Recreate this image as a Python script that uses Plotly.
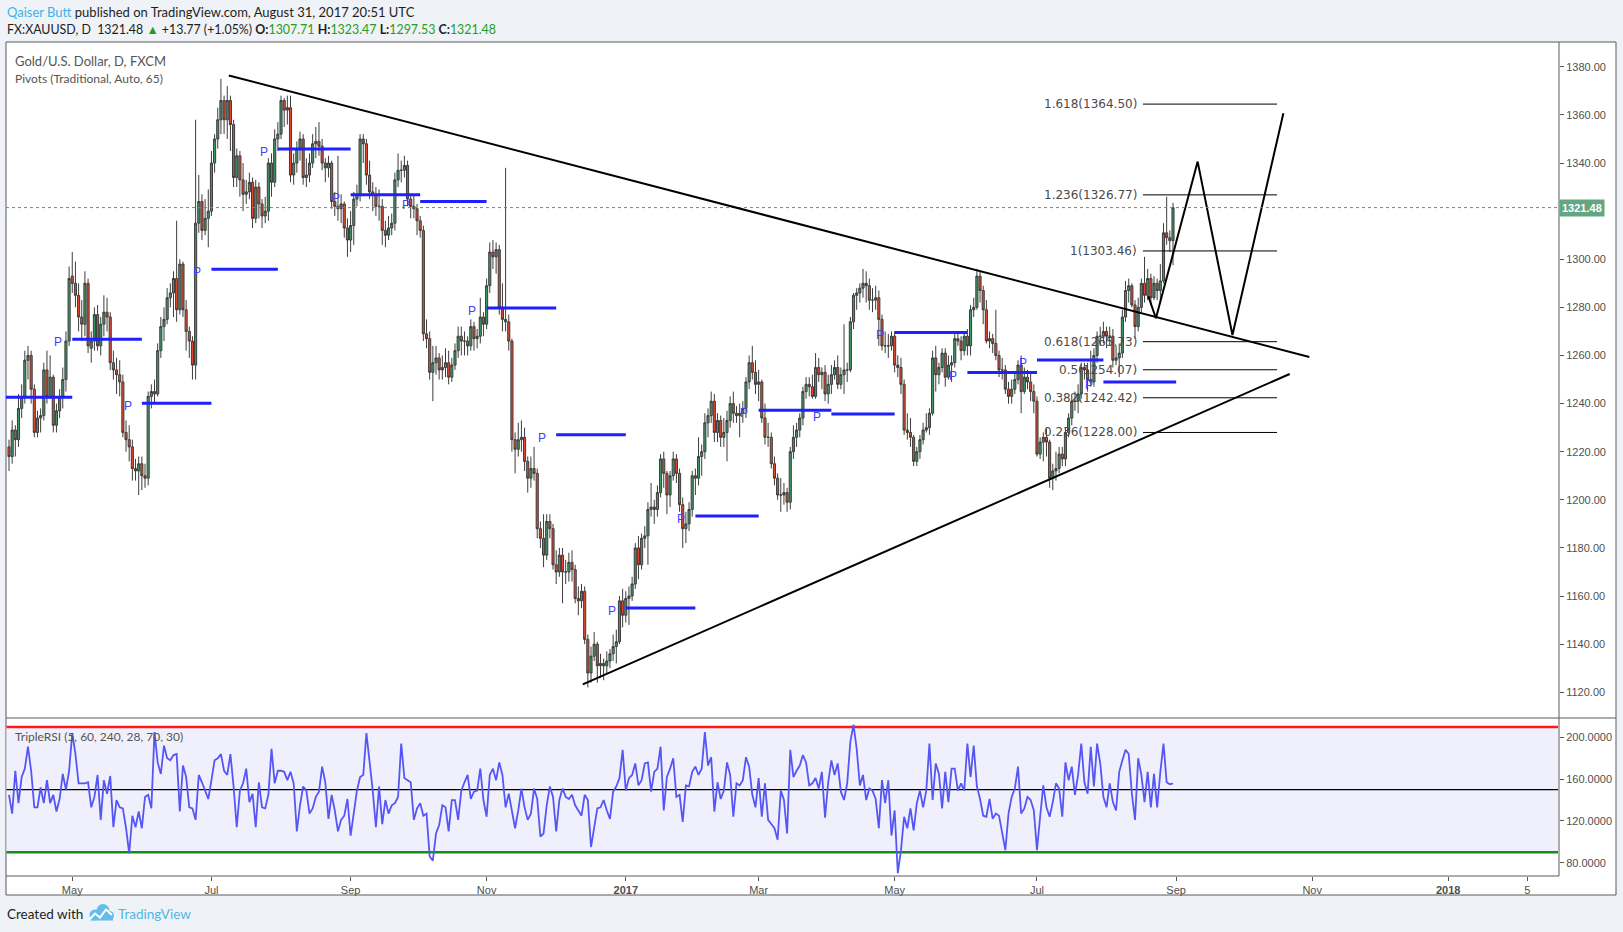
import pandas as pd
import plotly.graph_objects as go

# ---------------- data ----------------
START_DATE = "2016-04-04"   # first daily bar (weekdays)

OPEN = [
    1222,1218,1229,1225,1238, 1243,1258,1260,1246,1228, 1234,1235,1254,1243,1251, 1231,1237,1243,1250,1266,
    1293,1290,1285,1276,1273, 1290,1263,1266,1277,1264, 1273,1278,1276,1257,1254, 1252,1249,1228,1225,1222,
    1213,1212,1215,1210,1209, 1243,1245,1244,1262,1272, 1275,1284,1286,1292,1279, 1298,1279,1270,1266,1256,
    1315,1324,1312,1317,1320, 1340,1350,1358,1366,1358, 1366,1356,1334,1343,1333, 1327,1328,1332,1317,1330,
    1323,1318,1320,1340,1332, 1350,1352,1366,1362,1363, 1335,1340,1346,1350,1334, 1335,1340,1348,1349,1347,
    1340,1338,1340,1324,1322, 1321,1323,1313,1308,1314, 1325,1327,1350,1348,1335, 1328,1327,1322,1322,1312,
    1310,1313,1315,1333,1337, 1337,1339,1325,1322,1321, 1316,1312,1269,1267,1253, 1257,1259,1254,1255,1257,
    1251,1256,1262,1268,1266, 1266,1264,1272,1267,1268, 1276,1273,1289,1303,1301, 1304,1280,1275,1274,1266,
    1225,1221,1225,1226,1216, 1209,1213,1211,1188,1184, 1177,1191,1188,1173,1170, 1177,1170,1170,1174,1171,
    1159,1158,1162,1142,1128, 1135,1140,1131,1132,1131, 1133,1136,1139,1141,1158, 1152,1159,1160,1165,1180,
    1173,1184,1185,1196,1197, 1196,1203,1217,1211,1202, 1210,1217,1211,1198,1188, 1190,1196,1210,1209,1218,
    1220,1232,1235,1241,1228, 1233,1226,1228,1233,1240, 1236,1235,1236,1238,1249, 1257,1253,1248,1249,1234,
    1226,1226,1215,1209,1202, 1202,1203,1199,1220,1226, 1229,1234,1245,1248,1247, 1243,1255,1252,1253,1244,
    1248,1252,1255,1248,1252, 1254,1254,1274,1285,1286, 1288,1290,1289,1283,1283, 1284,1275,1264,1264,1264,
    1268,1256,1255,1248,1229, 1228,1226,1216,1220,1225, 1229,1230,1236,1259,1252, 1255,1261,1251,1256,1257,
    1267,1266,1262,1268,1264, 1279,1280,1293,1287,1279, 1266,1267,1265,1260,1254, 1254,1246,1243,1246,1250,
    1256,1245,1251,1249,1245, 1241,1219,1224,1226,1224, 1209,1212,1213,1219,1217, 1228,1234,1241,1241,1244,
    1255,1254,1250,1249,1260, 1268,1268,1270,1268,1268, 1258,1259,1261,1276,1287, 1289,1281,1272,1280,1290,
    1285,1292,1284,1290,1287, 1291,1311,1309,1307.71,
]
HIGH = [
    1225,1233,1231,1244,1248, 1262,1264,1262,1248,1237, 1238,1257,1262,1260,1252, 1240,1246,1255,1270,1297,
    1303,1299,1290,1283,1295, 1292,1270,1280,1281,1276, 1285,1284,1278,1262,1259, 1258,1252,1233,1231,1225,
    1217,1218,1218,1215,1245, 1248,1250,1265,1276,1280, 1288,1290,1295,1316,1300, 1299,1283,1272,1268,1358,
    1335,1327,1325,1329,1345, 1352,1363,1375,1368,1372, 1368,1358,1346,1345,1340, 1333,1336,1334,1333,1332,
    1325,1326,1342,1344,1354, 1357,1368,1367,1368,1368, 1344,1349,1353,1352,1342, 1344,1352,1355,1357,1350,
    1342,1343,1341,1328,1343, 1327,1324,1317,1320,1328, 1331,1352,1352,1350,1341, 1332,1330,1329,1325,1316,
    1318,1319,1336,1344,1341, 1343,1341,1327,1327,1323, 1318,1314,1275,1270,1264, 1264,1261,1260,1263,1262,
    1259,1265,1272,1272,1270, 1268,1275,1274,1271,1284, 1278,1292,1307,1308,1307, 1306,1290,1338,1277,1267,
    1228,1232,1233,1230,1218, 1218,1222,1213,1191,1194, 1194,1194,1190,1179,1180, 1180,1175,1178,1179,1173,
    1164,1165,1164,1144,1139, 1145,1141,1136,1134,1137, 1138,1144,1146,1160,1163, 1162,1164,1168,1182,1185,
    1186,1189,1199,1207,1200, 1206,1219,1220,1212,1212, 1220,1219,1213,1201,1195, 1199,1212,1213,1226,1223,
    1236,1238,1245,1244,1236, 1235,1234,1237,1243,1245, 1239,1240,1241,1251,1260, 1264,1258,1254,1250,1240,
    1232,1228,1218,1211,1209, 1207,1205,1222,1231,1232, 1236,1247,1251,1251,1252, 1261,1259,1255,1256,1252,
    1256,1258,1260,1255,1273, 1257,1276,1286,1288,1290, 1296,1295,1292,1288,1289, 1287,1277,1270,1269,1270,
    1270,1260,1259,1250,1236, 1234,1227,1222,1227,1232, 1236,1238,1262,1264,1257, 1263,1263,1260,1260,1269,
    1270,1268,1270,1271,1281, 1284,1296,1295,1289,1283, 1270,1269,1279,1262,1259, 1256,1249,1250,1253,1258,
    1260,1255,1254,1253,1248, 1243,1226,1228,1230,1225, 1215,1220,1222,1222,1230, 1236,1244,1245,1248,1257,
    1257,1257,1262,1263,1270, 1272,1274,1272,1272,1271, 1264,1265,1279,1291,1292, 1290,1283,1284,1292,1301,
    1296,1294,1293,1292,1298, 1315,1326,1312,1323.47,
]
LOW = [
    1212,1215,1218,1222,1234, 1240,1250,1240,1226,1226, 1228,1233,1240,1242,1228, 1228,1234,1238,1245,1264,
    1286,1280,1270,1266,1268, 1261,1257,1262,1262,1260, 1268,1270,1254,1250,1244, 1243,1226,1220,1216,1208,
    1208,1202,1204,1205,1206, 1238,1240,1243,1259,1266, 1273,1280,1276,1274,1277, 1276,1262,1259,1250,1250,
    1311,1308,1310,1305,1318, 1336,1346,1352,1352,1350, 1345,1330,1330,1326,1320, 1323,1325,1313,1315,1317,
    1313,1315,1316,1326,1330, 1345,1350,1355,1356,1332, 1331,1336,1341,1331,1330, 1332,1338,1342,1343,1337,
    1332,1334,1321,1318,1316, 1315,1309,1301,1303,1306, 1322,1324,1340,1331,1325, 1320,1318,1316,1306,1305,
    1308,1310,1312,1330,1332, 1334,1322,1317,1317,1310, 1309,1266,1263,1250,1241, 1252,1250,1250,1251,1248,
    1249,1254,1259,1260,1260, 1260,1262,1262,1263,1265, 1268,1271,1286,1296,1294, 1277,1270,1270,1262,1220,
    1211,1218,1220,1212,1203, 1205,1208,1184,1180,1172, 1175,1184,1171,1165,1168, 1157,1165,1166,1166,1157,
    1152,1155,1140,1122,1124, 1133,1124,1126,1125,1128, 1130,1133,1132,1140,1147, 1149,1148,1158,1163,1167,
    1171,1180,1173,1193,1190, 1193,1201,1205,1194,1197, 1208,1207,1195,1180,1182, 1187,1193,1202,1206,1210,
    1217,1226,1232,1224,1224, 1222,1222,1216,1230,1232, 1232,1226,1232,1234,1246, 1250,1244,1241,1232,1223,
    1222,1213,1206,1200,1195, 1198,1195,1196,1217,1222, 1226,1231,1242,1243,1242, 1242,1249,1246,1241,1240,
    1244,1250,1246,1246,1244, 1249,1253,1271,1279,1282, 1284,1282,1279,1278,1279, 1264,1262,1261,1259,1262,
    1253,1251,1244,1227,1225, 1222,1214,1214,1217,1223, 1228,1227,1235,1245,1248, 1253,1247,1250,1249,1255,
    1264,1258,1260,1260,1260, 1276,1279,1282,1273,1265, 1263,1261,1258,1251,1250, 1244,1240,1240,1244,1248,
    1236,1244,1246,1241,1236, 1218,1217,1216,1218,1205, 1204,1208,1211,1214,1214, 1226,1231,1237,1236,1242,
    1250,1245,1247,1247,1257, 1264,1265,1263,1264,1255, 1256,1251,1259,1274,1282, 1280,1267,1270,1278,1282,
    1283,1281,1283,1283,1282, 1290,1306,1303,1297.53,
]
CLOSE = [
    1218,1229,1225,1238,1243, 1258,1260,1246,1228,1234, 1235,1254,1243,1251,1231, 1237,1243,1250,1266,1292,
    1290,1285,1276,1273,1290, 1264,1266,1277,1264,1273, 1278,1276,1257,1254,1252, 1249,1228,1225,1222,1213,
    1212,1215,1210,1209,1243, 1245,1244,1262,1272,1275, 1284,1286,1292,1279,1298, 1279,1270,1266,1256,1315,
    1324,1312,1317,1320,1340, 1350,1358,1366,1358,1366, 1356,1334,1343,1333,1327, 1328,1332,1317,1330,1323,
    1318,1320,1340,1332,1350, 1352,1366,1362,1363,1335, 1340,1346,1350,1334,1335, 1340,1348,1349,1347,1340,
    1338,1340,1324,1322,1321, 1323,1313,1308,1314,1325, 1327,1350,1348,1335,1328, 1327,1322,1322,1312,1310,
    1313,1315,1333,1337,1337, 1339,1325,1322,1321,1316, 1312,1269,1267,1253,1257, 1259,1254,1255,1257,1251,
    1256,1262,1268,1266,1266, 1264,1272,1267,1268,1276, 1273,1289,1303,1301,1304, 1280,1275,1274,1266,1225,
    1221,1225,1226,1216,1209, 1213,1211,1188,1184,1177, 1191,1188,1173,1170,1177, 1170,1170,1174,1171,1159,
    1158,1162,1142,1128,1135, 1140,1131,1132,1131,1133, 1136,1139,1141,1158,1152, 1159,1160,1165,1180,1173,
    1184,1185,1196,1197,1196, 1203,1217,1211,1202,1210, 1217,1211,1198,1188,1190, 1196,1210,1209,1218,1220,
    1232,1235,1241,1228,1233, 1226,1228,1233,1240,1236, 1235,1236,1238,1249,1257, 1253,1248,1249,1234,1226,
    1226,1215,1209,1202,1202, 1203,1199,1220,1226,1229, 1234,1245,1248,1247,1243, 1255,1252,1253,1244,1248,
    1252,1255,1248,1252,1254, 1254,1274,1285,1286,1288, 1290,1289,1283,1283,1284, 1275,1264,1264,1264,1268,
    1256,1255,1248,1229,1228, 1226,1216,1220,1225,1229, 1230,1236,1259,1252,1255, 1261,1251,1256,1257,1267,
    1266,1262,1268,1264,1279, 1280,1293,1287,1279,1266, 1267,1265,1260,1254,1254, 1246,1243,1246,1250,1256,
    1245,1251,1249,1245,1241, 1219,1224,1226,1224,1209, 1212,1213,1219,1217,1228, 1234,1241,1241,1244,1255,
    1254,1250,1249,1260,1268, 1268,1270,1268,1268,1258, 1259,1261,1276,1287,1289, 1281,1272,1280,1290,1285,
    1292,1284,1290,1287,1291, 1311,1309,1307.71,1321.48,
]

TRIPLE_RSI = [
    145,127,168,137,162,170,191,168,133,133, 152,137,159,137,145,129,141,165,150,168,
    204,184,156,156,156,157,133,143,164,121, 159,146,163,114,140,133,132,113,89,125,
    114,129,113,143,145,132,205,176,165,192, 180,178,183,184,129,173,162,133,132,
    121,164,157,149,141,159,178,180,184,168, 164,184,153,114,149,156,170,138,146,114,
    157,133,132,145,189,156,168,168,167,159, 167,156,110,135,153,149,127,132,143,148,
    172,157,122,145,130,110,121,125,141,106, 130,149,162,164,204,178,149,114,153,117,
    140,127,135,137,143,194,161,159,157,121, 132,137,125,127,86,82,108,116,135,133,
    110,140,140,121,149,157,164,141,148,149, 170,140,124,164,170,159,176,164,133,
    146,130,113,130,151,133,121,127,151, 141,105,108,135,153,143,110,140,151,143,
    141,145,135,130,125,145,140,95,116,132, 133,140,130,122,148,153,161,188,149,161,
    164,175,154,159,175,176,148,167,170,191, 130,162,170,180,143,145,119,154,153,167,
    172,164,
    170,205,173,181,129,157,141,149,176,164, 124,156,154,159,181,172,145,133,161,124,
    156,121,117,113,102,149,140,108,188,162, 168,173,183,176,154,156,161,151,167,123,
    157,178,164,175,148,140,156,196,212,189, 154,164,140,151,149,141,113,159,137,159,
    106,130,70,92,124,113,132,111,137,149, 133,149,194,140,175,165,132,167,138,170,
    170,149,156,149,194,162,192,153,141,125, 124,141,122,127,125,108,92,127,143,151,172,
    127,132,143,140,130,92,124,154,133,124, 138,156,151,124,176,159,172,145,164,194,
    157,146,191,153,194,175,143,133,156,138, 130,167,178,188,184,146,121,180,164,138,
    167,133,165,133,167,194,157,155,156,
]
RSI_LEVELS = [210, 150, 90]

# monthly traditional pivots (P)
PIVOT_MONTHS = ["2016-04", "2016-05", "2016-06", "2016-07", "2016-08", "2016-09", "2016-10", "2016-11",
                "2016-12", "2017-01", "2017-02", "2017-03", "2017-04", "2017-05", "2017-06", "2017-07", "2017-08"]
PIVOT_LEVELS = [1242.6, 1266.7, 1240.1, 1295.8, 1345.8, 1326.8, 1324.0, 1279.7,
                1227.0, 1155.0, 1193.3, 1237.2, 1235.7, 1269.6, 1252.9, 1258.1, 1249.0]

FIB_RATIOS = ["1.618", "1.236", "1", "0.618", "0.5", "0.382", "0.236"]
FIB_PRICES = [1364.50, 1326.77, 1303.46, 1265.73, 1254.07, 1242.42, 1228.00]

# drawings: (bar index, price)
UPPER_TREND = [(69.5, 1376.4), (411.1, 1259.4)]
LOWER_TREND = [(181.4, 1123.3), (404.9, 1252.3)]
ZIGZAG_X = [360.2, 362.6, 375.8, 386.8, 402.9]
ZIGZAG_Y = [1284.7, 1275.5, 1340.6, 1268.5, 1360.7]
FIB_SPAN = (358.5, 400.9)

TICK_DATES = ["2016-05-02", "2016-07-01", "2016-09-01", "2016-11-01", "2017-01-02", "2017-03-01",
              "2017-05-01", "2017-07-03", "2017-09-01", "2017-11-01", "2018-01-01", "2018-02-05"]
TICK_TEXT = ["May", "Jul", "Sep", "Nov", "<b>2017</b>", "Mar", "May", "Jul", "Sep", "Nov", "<b>2018</b>", "5"]

LAST_PRICE = 1321.48
PRICE_TICKS = [1120, 1140, 1160, 1180, 1200, 1220, 1240, 1260, 1280, 1300, 1340, 1360, 1380]
RSI_TICKS = [80, 120, 160, 200]

# ---------------- helpers ----------------
W, H = 1623, 932
def px(x):
    return x / W
def py(y):
    return 1 - y / H

all_days = pd.bdate_range("2016-03-01", "2018-03-30")
offset = all_days.searchsorted(pd.Timestamp(START_DATE))
def day_index(d):
    return int(all_days.searchsorted(pd.Timestamp(d))) - offset

n = len(CLOSE)
xs = list(range(n))
rsi_n = min(len(TRIPLE_RSI), n)
rsi_x = xs[n - rsi_n:]
rsi_y = TRIPLE_RSI[len(TRIPLE_RSI) - rsi_n:]

AXIS_FONT = dict(family="Liberation Sans, Arial", size=11, color="#4f4f4f")
BORDER = "#5a5a5a"

fig = go.Figure()

fig.add_trace(go.Candlestick(
    x=xs, open=OPEN[:n], high=HIGH[:n], low=LOW[:n], close=CLOSE,
    increasing=dict(fillcolor="#3f9566", line=dict(color="#3d3d3d", width=1)),
    decreasing=dict(fillcolor="#e0472b", line=dict(color="#3d3d3d", width=1)),
    whiskerwidth=0, xaxis="x", yaxis="y", showlegend=False, hoverinfo="skip",
))

fig.add_trace(go.Scatter(
    x=ZIGZAG_X, y=ZIGZAG_Y, mode="lines", line=dict(color="#000000", width=2),
    xaxis="x", yaxis="y", showlegend=False, hoverinfo="skip",
))

fig.add_trace(go.Scatter(
    x=rsi_x, y=rsi_y, mode="lines", line=dict(color="#5656f5", width=1.8),
    xaxis="x", yaxis="y2", showlegend=False, hoverinfo="skip",
))

shapes = []
# outer frame (white)
shapes.append(dict(type="rect", xref="paper", yref="paper", x0=px(6), x1=px(1616), y0=py(895), y1=py(42),
                   fillcolor="#ffffff", line=dict(color=BORDER, width=1), layer="below"))
# RSI band
shapes.append(dict(type="rect", xref="paper", yref="y2", x0=px(6.5), x1=px(1558), y0=RSI_LEVELS[2], y1=RSI_LEVELS[0],
                   fillcolor="#f0f0fc", line=dict(width=0), layer="below"))
for lvl, col, wd in zip(RSI_LEVELS, ["#ff1a1a", "#000000", "#1a8a1a"], [2.5, 1.2, 2.5]):
    shapes.append(dict(type="line", xref="paper", yref="y2", x0=px(6.5), x1=px(1558), y0=lvl, y1=lvl,
                       line=dict(color=col, width=wd), layer="below"))
# pane separators
shapes.append(dict(type="line", xref="paper", yref="paper", x0=px(6), x1=px(1616), y0=py(718), y1=py(718),
                   line=dict(color=BORDER, width=1)))
shapes.append(dict(type="line", xref="paper", yref="paper", x0=px(6), x1=px(1559), y0=py(876), y1=py(876),
                   line=dict(color=BORDER, width=1)))
shapes.append(dict(type="line", xref="paper", yref="paper", x0=px(1559), x1=px(1559), y0=py(876), y1=py(42),
                   line=dict(color=BORDER, width=1)))
# last price dotted line
shapes.append(dict(type="line", xref="paper", yref="y", x0=px(6), x1=px(1559), y0=LAST_PRICE, y1=LAST_PRICE,
                   line=dict(color="#4f9a70", width=1, dash="dot")))
# pivots
annotations = []
for i, (m, lvl) in enumerate(zip(PIVOT_MONTHS, PIVOT_LEVELS)):
    start = day_index(m + "-01")
    nxt = (pd.Period(m) + 1).strftime("%Y-%m") + "-01"
    end = day_index(nxt)
    shapes.append(dict(type="line", xref="x", yref="y", x0=max(start, -1), x1=end, y0=lvl, y1=lvl,
                       line=dict(color="#1f1fff", width=3)))
    if start > 0:
        annotations.append(dict(xref="x", yref="y", x=start - 2.6, y=lvl, text="P", showarrow=False,
                                xanchor="right", yanchor="middle", yshift=-3,
                                font=dict(family="Liberation Sans, Arial", size=12, color="#4040ff")))
# trend lines
for (x0, y0), (x1, y1) in [UPPER_TREND, LOWER_TREND]:
    shapes.append(dict(type="line", xref="x", yref="y", x0=x0, y0=y0, x1=x1, y1=y1,
                       line=dict(color="#000000", width=2)))
# fib levels
for r, p in zip(FIB_RATIOS, FIB_PRICES):
    shapes.append(dict(type="line", xref="x", yref="y", x0=FIB_SPAN[0], x1=FIB_SPAN[1], y0=p, y1=p,
                       line=dict(color="#000000", width=1)))
    annotations.append(dict(xref="x", yref="y", x=FIB_SPAN[0] - 1.1, y=p, text=f"{r}({p:.2f})",
                            showarrow=False, xanchor="right", yanchor="middle",
                            font=dict(family="DejaVu Sans", size=12, color="#4a4a4a")))

# TradingView logo (cloud)
LOGO = "#62bde9"
for cx, cy, r in [(95, 915, 5.5), (103, 910.5, 6.5), (109.5, 915.5, 4.5)]:
    shapes.append(dict(type="circle", xref="paper", yref="paper", x0=px(cx - r), x1=px(cx + r),
                       y0=py(cy + r), y1=py(cy - r), fillcolor=LOGO, line=dict(width=0)))
shapes.append(dict(type="rect", xref="paper", yref="paper", x0=px(90), x1=px(113), y0=py(920.5), y1=py(914),
                   fillcolor=LOGO, line=dict(width=0)))
logo_pts = [(89.5, 919.5), (95, 913.5), (100, 917.5), (106, 909.5), (112, 915)]
path = "M " + " L ".join(f"{px(a):.5f},{py(b):.5f}" for a, b in logo_pts)
shapes.append(dict(type="path", xref="paper", yref="paper", path=path, line=dict(color="#ffffff", width=2)))

# texts
annotations += [
    dict(xref="paper", yref="paper", x=px(5), y=py(12.5), xanchor="left", yanchor="middle", showarrow=False,
         text="<span style='color:#3cb4e6'>Qaiser Butt</span> published on TradingView.com, August 31, 2017 20:51 UTC",
         font=dict(family="Lato, Liberation Sans", size=13, color="#1e1e1e")),
    dict(xref="paper", yref="paper", x=px(5), y=py(30), xanchor="left", yanchor="middle", showarrow=False,
         text=("FX:XAUUSD, D  1321.48 <span style='color:#1f9e1f'>▲</span> +13.77 (+1.05%) "
               "<b>O:</b><span style='color:#1f9e1f'>1307.71</span> <b>H:</b><span style='color:#1f9e1f'>1323.47</span> "
               "<b>L:</b><span style='color:#1f9e1f'>1297.53</span> <b>C:</b><span style='color:#1f9e1f'>1321.48</span>"),
         font=dict(family="Lato, Liberation Sans", size=12.4, color="#1e1e1e")),
    dict(xref="paper", yref="paper", x=px(13), y=py(61), xanchor="left", yanchor="middle", showarrow=False,
         text="Gold/U.S. Dollar, D, FXCM", font=dict(family="Lato, Liberation Sans", size=13, color="#555555")),
    dict(xref="paper", yref="paper", x=px(13), y=py(78), xanchor="left", yanchor="middle", showarrow=False,
         text="Pivots (Traditional, Auto, 65)", font=dict(family="Lato, Liberation Sans", size=12, color="#555555")),
    dict(xref="paper", yref="paper", x=px(13), y=py(736), xanchor="left", yanchor="middle", showarrow=False,
         text="TripleRSI (5, 60, 240, 28, 70, 30)", font=dict(family="Lato, Liberation Sans", size=12, color="#555555")),
    dict(xref="paper", yref="paper", x=px(5), y=py(914), xanchor="left", yanchor="middle", showarrow=False,
         text="Created with", font=dict(family="Lato, Liberation Sans", size=13.5, color="#1e1e1e")),
    dict(xref="paper", yref="paper", x=px(116), y=py(914), xanchor="left", yanchor="middle", showarrow=False,
         text="TradingView", font=dict(family="Lato, Liberation Sans", size=13.5, color="#4fb6e6")),
    dict(xref="paper", yref="y", x=px(1559), y=LAST_PRICE, xanchor="left", yanchor="middle", showarrow=False,
         text="<b>1321.48</b>", bgcolor="#66a582", borderpad=2,
         font=dict(family="Liberation Sans, Arial", size=11, color="#ffffff")),
]

fig.update_layout(
    width=W, height=H,
    margin=dict(l=0, r=0, t=0, b=0),
    paper_bgcolor="#eff2f6",
    plot_bgcolor="rgba(0,0,0,0)",
    showlegend=False,
    boxgap=0.05,
    shapes=shapes,
    annotations=annotations,
    xaxis=dict(domain=[px(6), px(1559)], range=[-0.95, 490.04], anchor="y2",
               tickvals=[day_index(d) for d in TICK_DATES], ticktext=TICK_TEXT,
               ticks="outside", ticklen=4, tickcolor="#555555", tickfont=AXIS_FONT,
               showgrid=False, zeroline=False, showline=False, rangeslider=dict(visible=False),
               fixedrange=True),
    yaxis=dict(domain=[py(718), py(43)], range=[1109.3, 1389.9], side="right", anchor="x",
               tickvals=PRICE_TICKS, ticktext=[f"{v:.2f}" for v in PRICE_TICKS],
               ticks="outside", ticklen=4, tickcolor="#555555", tickfont=AXIS_FONT,
               showgrid=False, zeroline=False, showline=False),
    yaxis2=dict(domain=[py(876), py(718)], range=[67.3, 218.5], side="right", anchor="x",
                tickvals=RSI_TICKS, ticktext=[f"{v:.4f}" for v in RSI_TICKS],
                ticks="outside", ticklen=4, tickcolor="#555555", tickfont=AXIS_FONT,
                showgrid=False, zeroline=False, showline=False),
)

fig.write_html("out.html", config={"displayModeBar": False},
               post_script="document.body.style.margin='0';document.body.style.overflow='hidden';")
